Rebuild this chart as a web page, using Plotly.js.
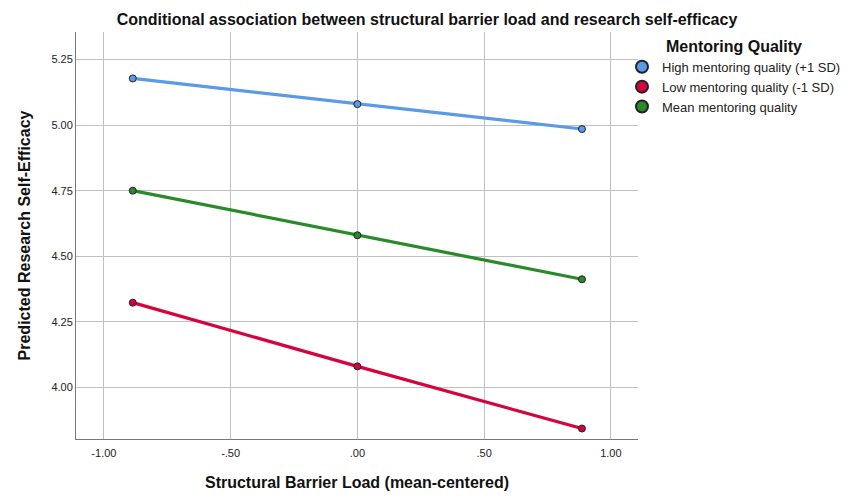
<!DOCTYPE html>
<html>
<head>
<meta charset="utf-8">
<script src="https://cdn.plot.ly/plotly-3.0.1.min.js"></script>
<style>
  html, body { margin: 0; padding: 0; background: #fff; }
  #myDiv { width: 854px; height: 504px; }
</style>
</head>
<body>
<div id="myDiv"></div>
<script>
// barrier load at -1 SD, mean, +1 SD
var barrierLoad = [-0.886, 0.0, 0.886];

var groupNames = ['High mentoring quality (+1 SD)', 'Low mentoring quality (-1 SD)', 'Mean mentoring quality'];
var highVals = [5.178, 5.080, 4.985];
var lowVals = [4.323, 4.080, 3.843];
var meanVals = [4.750, 4.580, 4.412];
var groupColors = ['#5a9ae6', '#d4043c', '#2a8a2a'];

var xTicks = [-1, -0.5, 0, 0.5, 1];
var xTickText = ['-1.00', '-.50', '.00', '.50', '1.00'];
var yTicks = [4.0, 4.25, 4.5, 4.75, 5.0, 5.25];
var yTickText = ['4.00', '4.25', '4.50', '4.75', '5.00', '5.25'];

var series = [highVals, lowVals, meanVals];
var data = [];

// lines (no legend entry)
series.forEach(function (vals, i) {
    data.push({
        x: barrierLoad,
        y: vals,
        type: 'scatter',
        mode: 'lines',
        line: {color: groupColors[i], width: 3.2},
        showlegend: false,
        hoverinfo: 'skip'
    });
});

// points, legend shows circles only
series.forEach(function (vals, i) {
    data.push({
        x: barrierLoad,
        y: vals,
        type: 'scatter',
        mode: 'markers',
        name: groupNames[i],
        marker: {color: groupColors[i], size: 7, line: {color: '#222', width: 1}}
    });
});

var font = 'Liberation Sans, Arial, sans-serif';

var layout = {
    width: 854,
    height: 504,
    margin: {l: 76, r: 216, t: 32, b: 65, pad: 0, autoexpand: false},
    paper_bgcolor: '#fff',
    plot_bgcolor: '#fff',
    font: {family: font, size: 11, color: '#222'},
    title: {
        text: '<b>Conditional association between structural barrier load and research self-efficacy</b>',
        font: {family: font, size: 16, color: '#111'},
        xref: 'container', x: 0.5, xanchor: 'center',
        yref: 'container', y: 0.962, yanchor: 'middle'
    },
    xaxis: {
        range: [-1.11, 1.107],
        tickvals: xTicks,
        ticktext: xTickText,
        showgrid: true,
        gridcolor: '#c0c0c0',
        gridwidth: 1,
        zeroline: false,
        showline: true,
        linecolor: '#777',
        linewidth: 1,
        ticks: 'outside',
        ticklen: 4,
        tickcolor: 'rgba(0,0,0,0)',
        tickfont: {family: font, size: 11, color: '#222'},
        title: {
            text: '<b>Structural Barrier Load (mean-centered)</b>',
            font: {family: font, size: 16, color: '#111'},
            standoff: 18
        }
    },
    yaxis: {
        range: [3.803, 5.355],
        tickvals: yTicks,
        ticktext: yTickText,
        showgrid: true,
        gridcolor: '#c0c0c0',
        gridwidth: 1,
        zeroline: false,
        showline: true,
        linecolor: '#777',
        linewidth: 1,
        ticks: '',
        tickfont: {family: font, size: 11, color: '#222'},
        title: {
            text: '<b>Predicted Research Self-Efficacy</b>',
            font: {family: font, size: 16, color: '#111'},
            standoff: 16
        }
    },
    legend: {
        xref: 'container', x: 622 / 854, xanchor: 'left',
        yref: 'container', y: 1 - 31 / 504, yanchor: 'top',
        bgcolor: 'rgba(0,0,0,0)',
        font: {family: font, size: 13, color: '#222'},
        itemsizing: 'constant',
        tracegroupgap: 0,
        title: {
            text: '<b>Mentoring Quality</b>',
            side: 'top center',
            font: {family: font, size: 16, color: '#111'}
        }
    }
};

Plotly.newPlot('myDiv', data, layout, {displayModeBar: false});
</script>
</body>
</html>
